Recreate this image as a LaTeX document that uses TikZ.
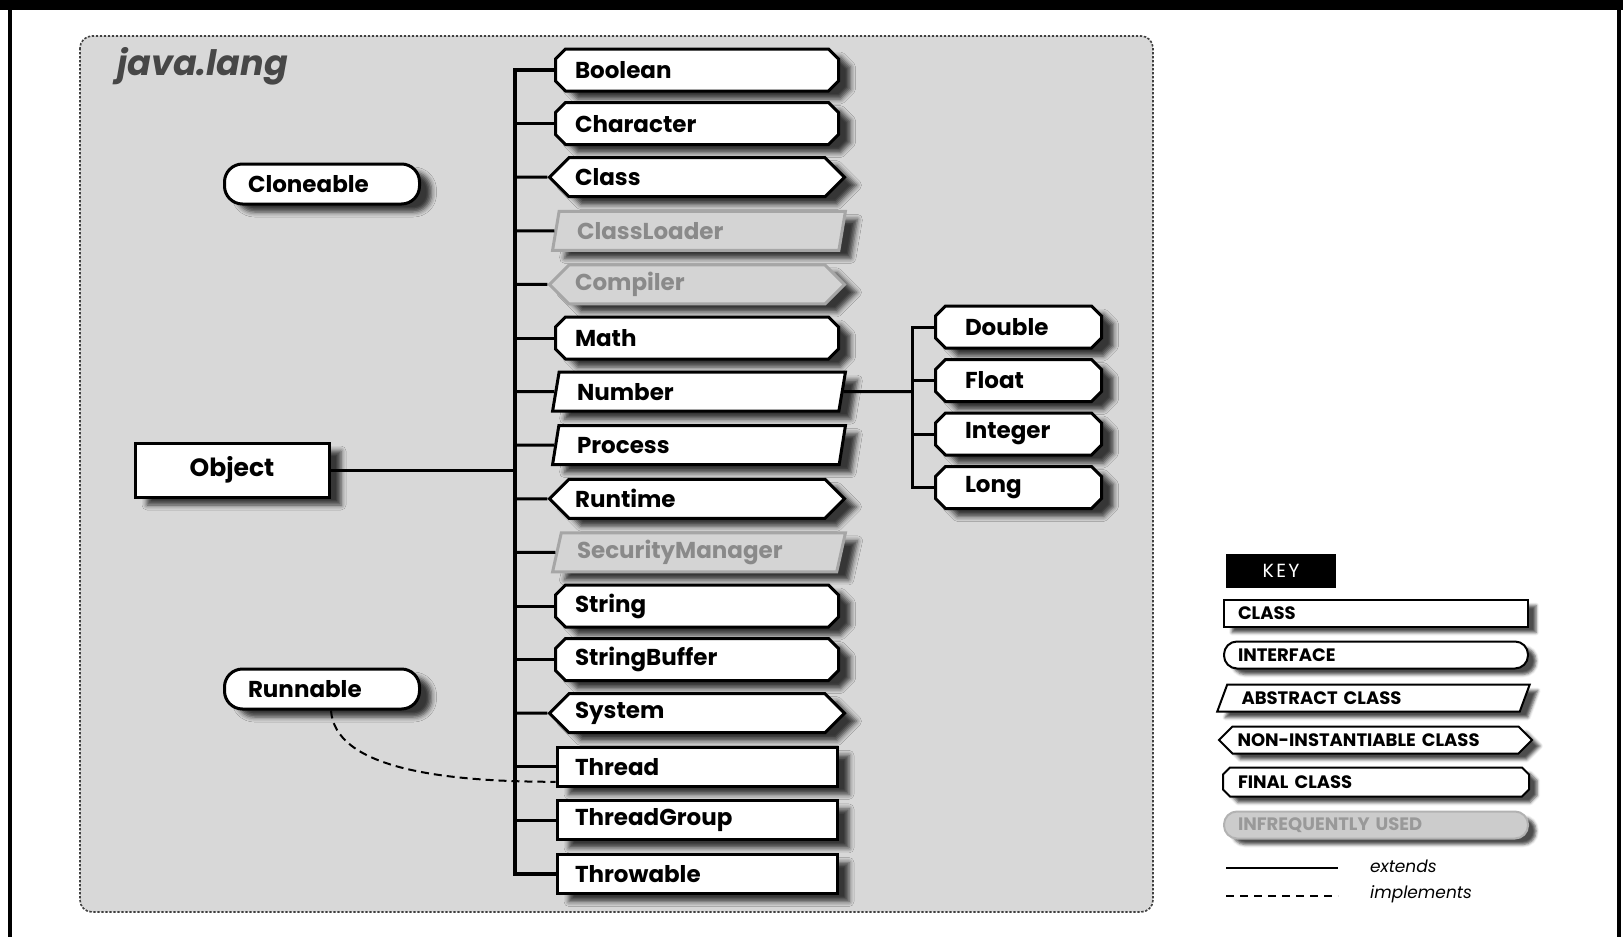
\documentclass[tikz,border=0pt]{standalone}
\usepackage{fontspec}
\setmainfont{Poppins}
\usetikzlibrary{positioning,shapes.geometric,shapes.symbols,shadows.blur}

\definecolor{pkgfill}{HTML}{D8D8D8}
\definecolor{rarefill}{HTML}{D4D4D4}
\definecolor{raretext}{HTML}{8A8A8A}

% box with cut corners (final classes)
\makeatletter
\pgfkeys{/pgf/final cut/.initial=5pt}
\pgfdeclareshape{final box}{%
  \inheritsavedanchors[from=rectangle]%
  \inheritanchorborder[from=rectangle]%
  \inheritanchor[from=rectangle]{center}%
  \inheritanchor[from=rectangle]{north}%
  \inheritanchor[from=rectangle]{south}%
  \inheritanchor[from=rectangle]{east}%
  \inheritanchor[from=rectangle]{west}%
  \inheritanchor[from=rectangle]{north east}%
  \inheritanchor[from=rectangle]{north west}%
  \inheritanchor[from=rectangle]{south east}%
  \inheritanchor[from=rectangle]{south west}%
  \backgroundpath{%
    \pgfmathsetlengthmacro\jl@cut{\pgfkeysvalueof{/pgf/final cut}}%
    \southwest \edef\jl@xa{\the\pgf@x}\edef\jl@ya{\the\pgf@y}%
    \northeast \edef\jl@xb{\the\pgf@x}\edef\jl@yb{\the\pgf@y}%
    \pgf@x=\jl@xa \advance\pgf@x by\jl@cut \edef\jl@xc{\the\pgf@x}%
    \pgf@x=\jl@xb \advance\pgf@x by-\jl@cut \edef\jl@xd{\the\pgf@x}%
    \pgf@y=\jl@ya \advance\pgf@y by\jl@cut \edef\jl@yc{\the\pgf@y}%
    \pgf@y=\jl@yb \advance\pgf@y by-\jl@cut \edef\jl@yd{\the\pgf@y}%
    \pgfpathmoveto{\pgfqpoint{\jl@xa}{\jl@yc}}%
    \pgfpathlineto{\pgfqpoint{\jl@xa}{\jl@yd}}%
    \pgfpathlineto{\pgfqpoint{\jl@xc}{\jl@yb}}%
    \pgfpathlineto{\pgfqpoint{\jl@xd}{\jl@yb}}%
    \pgfpathlineto{\pgfqpoint{\jl@xb}{\jl@yd}}%
    \pgfpathlineto{\pgfqpoint{\jl@xb}{\jl@yc}}%
    \pgfpathlineto{\pgfqpoint{\jl@xd}{\jl@ya}}%
    \pgfpathlineto{\pgfqpoint{\jl@xc}{\jl@ya}}%
    \pgfpathclose
  }%
}
\makeatother

\begin{document}
\begin{tikzpicture}[
  x=0.5pt,y=-0.5pt,
  font=\fontsize{11.5}{13}\selectfont\bfseries,
  cbox/.style={draw,line width=1.5pt,fill=white,inner xsep=0pt,inner ysep=1pt,
    align=left,minimum height=19.5pt},
  shd/.style={blur shadow={shadow xshift=6pt,shadow yshift=-4pt,shadow blur radius=2.5pt,shadow opacity=75}},
  kshd/.style={blur shadow={shadow xshift=4pt,shadow yshift=-3pt,shadow blur radius=1.5pt,shadow opacity=70}},
  col/.style={cbox,shd,minimum width=140pt,text width=122pt},
  cls/.style={rectangle},
  ifc/.style={rectangle,rounded corners=9pt},
  abst/.style={trapezium,trapezium left angle=75,trapezium right angle=105,trapezium stretches=true},
  nonin/.style={signal,signal to=east and west},
  fin/.style={shape=final box},
  rare/.style={fill=rarefill,draw=black!35,text=raretext},
  kbox/.style={cbox,kshd,line width=1pt,minimum width=152pt,minimum height=13.5pt,text width=138pt,
    font=\fontsize{9}{10}\selectfont\bfseries},
  ext/.style={line width=1.5pt},
  trunk/.style={line width=2pt},
  impl/.style={line width=1pt,dash pattern=on 4pt off 2.5pt},
  lab/.style={font=\fontsize{8.5}{10}\selectfont\mdseries\itshape}]

 \useasboundingbox (0,0) rectangle (1623,937);

 % ---- page frame and package box ----
 \fill (0,0) rectangle (1623,10);
 \draw[line width=2pt] (10,10) -- (10,937) (1619,10) -- (1619,937);
 \draw[fill=pkgfill,draw=black!75,line width=0.8pt,dash pattern=on 1.2pt off 0.8pt,rounded corners=6pt]
   (80,36) rectangle (1153,912);
 \node[anchor=base west,font=\fontsize{17.5}{20}\selectfont\bfseries\itshape,text=black!72] (pkgname) at (110,75) {java.lang};

 % ---- left side ----
 \node[cbox,cls,shd,minimum width=97pt,minimum height=27pt,align=center,
   font=\fontsize{12.5}{15}\selectfont\bfseries] (object) at (232,470) {Object};
 \node[cbox,ifc,shd,minimum width=97.5pt,minimum height=20pt,text width=74pt] (cloneable) at (322,184) {Cloneable};
 \node[cbox,ifc,shd,minimum width=97.5pt,minimum height=20pt,text width=74pt] (runnable) at (322,689) {Runnable};

 % ---- main column ----
 \node[col,fin] (boolean) at (697,70) {Boolean};
 \node[col,fin] (character) at (697,123.6) {Character};
 \node[col,nonin,minimum width=147.5pt] (class) at (697,177.2) {Class};
 \node[col,abst,rare,minimum width=146.5pt] (classloader) at (699,230.8) {ClassLoader};
 \node[col,nonin,rare,minimum width=147.5pt] (compiler) at (697,284.4) {Compiler};
 \node[col,fin] (math) at (697,338) {Math};
 \node[col,abst,minimum width=146.5pt] (number) at (699,391.6) {Number};
 \node[col,abst,minimum width=146.5pt] (process) at (699,445.2) {Process};
 \node[col,nonin,minimum width=147.5pt] (runtime) at (697,498.8) {Runtime};
 \node[col,abst,rare,minimum width=146.5pt] (secmgr) at (699,552.4) {SecurityManager};
 \node[col,fin] (string) at (697,606) {String};
 \node[col,fin] (strbuf) at (697,659.6) {StringBuffer};
 \node[col,nonin,minimum width=147.5pt] (system) at (697,713.2) {System};
 \node[col,cls] (thread) at (697,766.8) {Thread};
 \node[col,cls] (thrgroup) at (697,820.4) {ThreadGroup};
 \node[col,cls] (throwable) at (697,874) {Throwable};

 % ---- Number subclasses ----
 \node[cbox,fin,shd,minimum width=81.5pt,text width=53.5pt] (double) at (1018.5,327) {Double};
 \node[cbox,fin,shd,minimum width=81.5pt,text width=53.5pt] (float) at (1018.5,380.5) {Float};
 \node[cbox,fin,shd,minimum width=81.5pt,text width=53.5pt] (integer) at (1018.5,434) {Integer};
 \node[cbox,fin,shd,minimum width=81.5pt,text width=53.5pt] (long) at (1018.5,487.5) {Long};

 % ---- connectors ----
 \coordinate (tr) at (515,470);
 \coordinate (nt) at (912,391.6);
 \draw[trunk] (boolean) -| (tr) |- (throwable);
 \draw[ext] (object) -- (tr);
 \draw[ext] (tr |- character) -- (character);
 \draw[ext] (tr |- class) -- (class);
 \draw[ext] (tr |- classloader) -- (classloader);
 \draw[ext] (tr |- compiler) -- (compiler);
 \draw[ext] (tr |- math) -- (math);
 \draw[ext] (tr |- number) -- (number);
 \draw[ext] (tr |- process) -- (process);
 \draw[ext] (tr |- runtime) -- (runtime);
 \draw[ext] (tr |- secmgr) -- (secmgr);
 \draw[ext] (tr |- string) -- (string);
 \draw[ext] (tr |- strbuf) -- (strbuf);
 \draw[ext] (tr |- system) -- (system);
 \draw[ext] (tr |- thread) -- (thread);
 \draw[ext] (tr |- thrgroup) -- (thrgroup);
 \draw[ext] (number) -- (nt);
 \draw[ext] (double) -| (nt) |- (long);
 \draw[ext] (nt |- float) -- (float);
 \draw[ext] (nt |- integer) -- (integer);
 \draw[impl] ([xshift=4.5pt]runnable.south) .. controls +(4,56) and +(-120,0) .. ([yshift=3pt]thread.south west);

 % ---- key ----
 \node[fill=black,text=white,minimum width=55pt,minimum height=17pt,
   font=\fontsize{9.5}{11}\selectfont\mdseries\addfontfeature{LetterSpace=12}] (key) at (1281,571) {KEY};
 \node[kbox,cls] (kclass) at (1376,613) {CLASS};
 \node[kbox,ifc,rounded corners=6.5pt] (kiface) at (1376,655) {INTERFACE};
 \node[kbox,abst,trapezium left angle=62,trapezium right angle=118,minimum width=156.5pt,text width=132pt] (kabst) at (1373.5,698) {ABSTRACT CLASS};
 \node[kbox,nonin,minimum width=156.5pt] (knonin) at (1375.5,740) {NON-INSTANTIABLE CLASS};
 \node[kbox,fin,final cut=3.5pt] (kfinal) at (1376,782) {FINAL CLASS};
 \node[kbox,ifc,rare,rounded corners=6.5pt,fill=black!20,draw=black!30,text=black!40] (krare) at (1376,825) {INFREQUENTLY USED};
 \coordinate (kexta) at (1226,868);
 \coordinate (kextb) at (1338,868);
 \coordinate (kimpla) at (1226,896);
 \coordinate (kimplb) at (1338,896);
 \draw[line width=1.2pt] (kexta) -- (kextb);
 \draw[line width=1.2pt,dash pattern=on 4pt off 3pt] (kimpla) -- (kimplb);
 \node[lab,anchor=west] (kext) at (1363,866) {extends};
 \node[lab,anchor=west] (kimpl) at (1363,894) {implements};
\end{tikzpicture}
\end{document}
